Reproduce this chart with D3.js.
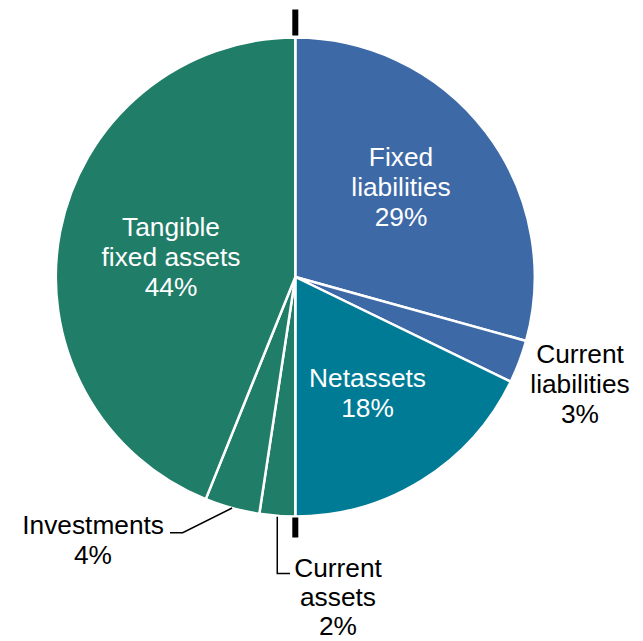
<!DOCTYPE html>
<html>
<head>
<meta charset="utf-8">
<script src="https://cdn.jsdelivr.net/npm/d3@7"></script>
<style>
  html, body { margin: 0; padding: 0; background: #fff; }
  svg text { font-family: "Liberation Sans", Arial, sans-serif; }
</style>
</head>
<body>
<svg id="chart" width="643" height="641"></svg>
<script>
const categories = ["Fixed liabilities", "Current liabilities", "Net assets", "Current assets", "Investments", "Tangible fixed assets"];
const values = [29.3, 2.9, 17.8, 2.4, 3.7, 43.9];
const percentLabels = ["29%", "3%", "18%", "2%", "4%", "44%"];
const labelLines = [["Fixed", "liabilities"], ["Current", "liabilities"], ["Netassets"], ["Current", "assets"], ["Investments"], ["Tangible", "fixed assets"]];
const colors = ["#3d69a7", "#3d69a7", "#007b96", "#1f7d68", "#1f7d68", "#1f7d68"];

const svg = d3.select("#chart");
const cx = 295.3, cy = 277, R = 239.5;
const g = svg.append("g").attr("transform", `translate(${cx},${cy})`);

const data = categories.map((c, i) => ({ name: c, value: values[i], pct: percentLabels[i], lines: labelLines[i], color: colors[i] }));
const pie = d3.pie().sort(null).value(d => d.value);
const arcs = pie(data);
const arc = d3.arc().innerRadius(0).outerRadius(R);

g.selectAll("path.slice").data(arcs).enter().append("path")
  .attr("class", "slice")
  .attr("d", arc)
  .attr("fill", d => d.data.color)
  .attr("stroke", "#fff")
  .attr("stroke-width", 2.5)
  .attr("stroke-linejoin", "round");

// divider marks (top and bottom)
g.append("rect").attr("x", -3).attr("y", -R - 28).attr("width", 6).attr("height", 26).attr("fill", "#000");
g.append("rect").attr("x", -3).attr("y", R + 1).attr("width", 6).attr("height", 20).attr("fill", "#000");

const fs = 26.3;
function drawLabel(x, y, lines, anchor, fill, lh = 30) {
  const t = svg.append("text")
    .attr("font-size", fs)
    .attr("fill", fill)
    .attr("text-anchor", anchor);
  lines.forEach((l, i) => {
    t.append("tspan").attr("x", x).attr("y", y + i * lh).text(l);
  });
}

// Inside labels
drawLabel(401, 166, [...data[0].lines, data[0].pct], "middle", "#fff");
drawLabel(367.5, 387, [...data[2].lines, data[2].pct], "middle", "#fff");
drawLabel(171, 236, [...data[5].lines, data[5].pct], "middle", "#fff");

// Outside labels
drawLabel(580, 362.5, [...data[1].lines, data[1].pct], "middle", "#000");
drawLabel(164, 534, [data[4].lines[0]], "end", "#000");
drawLabel(93, 564, [data[4].pct], "middle", "#000");
drawLabel(338, 577, [...data[3].lines, data[3].pct], "middle", "#000", 29);

// Leader lines
function edgePoint(a) {
  const ang = (a.startAngle + a.endAngle) / 2;
  return [cx + R * Math.sin(ang), cy - R * Math.cos(ang)];
}
const pInv = edgePoint(arcs[4]);
svg.append("polyline")
  .attr("points", [pInv, [182.7, 532.7], [170, 532.7]].map(p => p.join(",")).join(" "))
  .attr("fill", "none").attr("stroke", "#000").attr("stroke-width", 1.5);
const pCA = edgePoint(arcs[3]);
svg.append("polyline")
  .attr("points", [[pCA[0], pCA[1] + 1], [pCA[0], 573.5], [290, 573.5]].map(p => p.join(",")).join(" "))
  .attr("fill", "none").attr("stroke", "#000").attr("stroke-width", 1.5);
</script>
</body>
</html>
